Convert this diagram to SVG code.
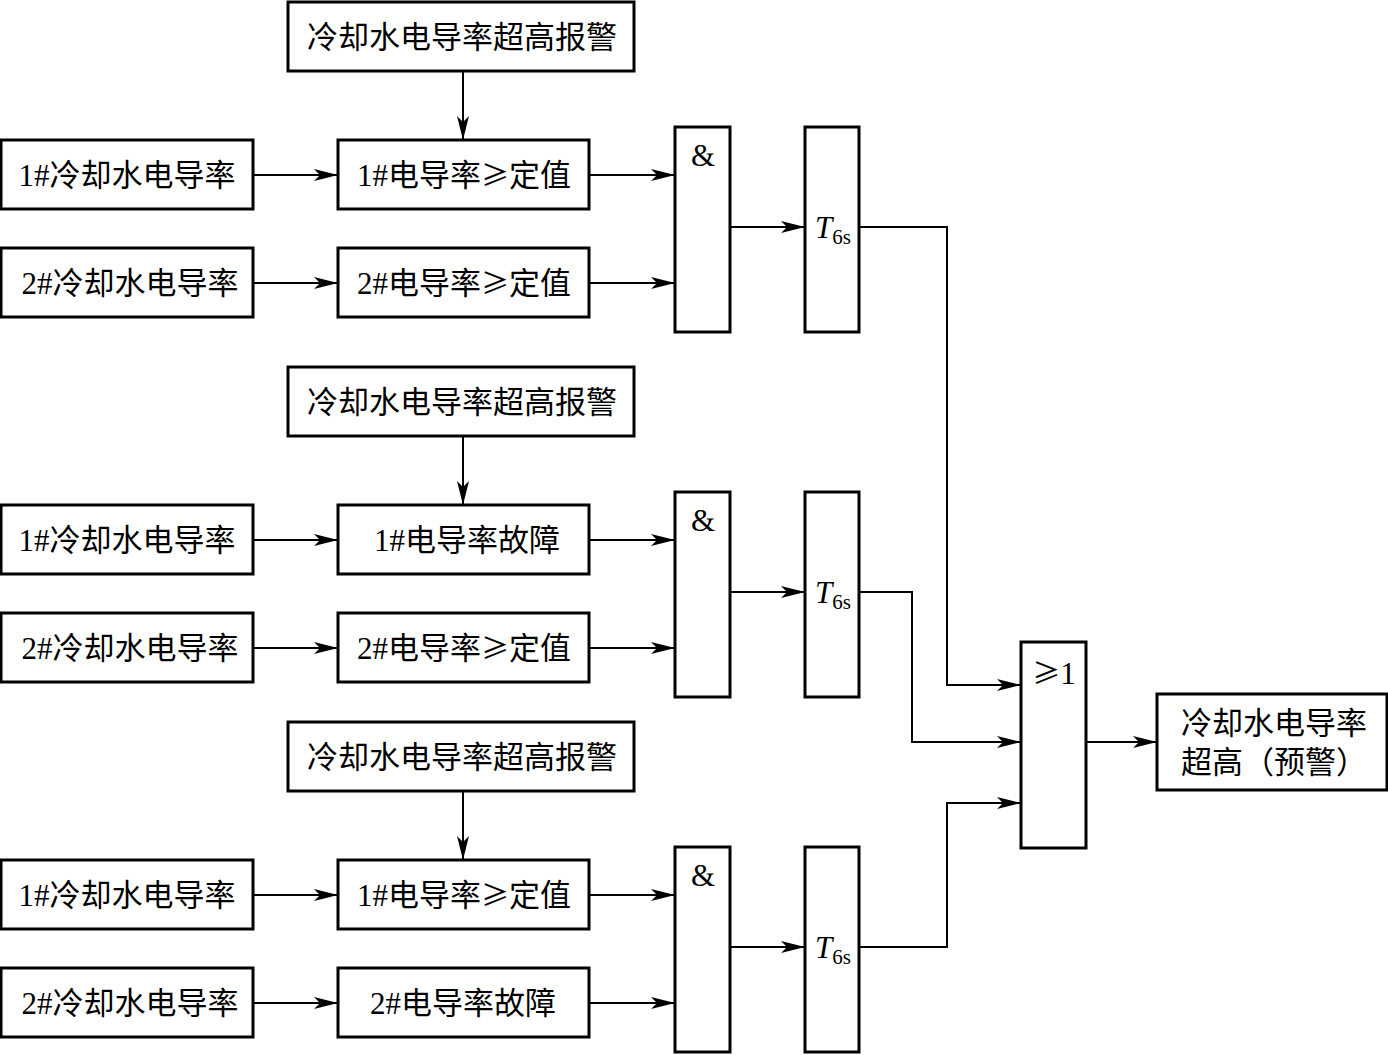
<svg xmlns="http://www.w3.org/2000/svg" width="1388" height="1055" viewBox="0 0 1388 1055">
<style>
.b{fill:#fff;stroke:#000;stroke-width:3}
.t{font-family:"Liberation Serif","Noto Sans CJK SC",serif;font-size:31px;fill:#000;text-anchor:middle}
.g{font-family:"Noto Sans CJK SC",sans-serif;font-size:28px}
.c{fill:none;stroke:#000;stroke-width:2}
.sub{font-size:21px}
</style>
<defs>
<marker id="a" markerWidth="24" markerHeight="12" refX="24" refY="6" orient="auto" markerUnits="userSpaceOnUse">
<path d="M0,0 L24,6 L0,12 L6,6 Z" fill="#000"/>
</marker>
</defs>
<rect width="1388" height="1055" fill="#fff"/>
<g id="connectors">
<path class="c" d="M463,71 V140" marker-end="url(#a)"/>
<path class="c" d="M253,175 H338" marker-end="url(#a)"/>
<path class="c" d="M253,283 H338" marker-end="url(#a)"/>
<path class="c" d="M589,175 H675" marker-end="url(#a)"/>
<path class="c" d="M589,283 H675" marker-end="url(#a)"/>
<path class="c" d="M730,227 H805" marker-end="url(#a)"/>
<path class="c" d="M859,227 H947 V685 H1021" marker-end="url(#a)"/>
<path class="c" d="M463,436 V505" marker-end="url(#a)"/>
<path class="c" d="M253,540 H338" marker-end="url(#a)"/>
<path class="c" d="M253,648 H338" marker-end="url(#a)"/>
<path class="c" d="M589,540 H675" marker-end="url(#a)"/>
<path class="c" d="M589,648 H675" marker-end="url(#a)"/>
<path class="c" d="M730,592 H805" marker-end="url(#a)"/>
<path class="c" d="M859,592 H912 V742 H1021" marker-end="url(#a)"/>
<path class="c" d="M463,791 V860" marker-end="url(#a)"/>
<path class="c" d="M253,895 H338" marker-end="url(#a)"/>
<path class="c" d="M253,1003 H338" marker-end="url(#a)"/>
<path class="c" d="M589,895 H675" marker-end="url(#a)"/>
<path class="c" d="M589,1003 H675" marker-end="url(#a)"/>
<path class="c" d="M730,947 H805" marker-end="url(#a)"/>
<path class="c" d="M859,947 H947 V803 H1021" marker-end="url(#a)"/>
<path class="c" d="M1086,742 H1157" marker-end="url(#a)"/>
</g>
<!-- group 1 -->
<g id="alarm1"><rect class="b" x="288" y="2" width="346" height="69"/><text class="t" x="462" y="48">冷却水电导率超高报警</text></g>
<g id="in1a"><rect class="b" x="1" y="140" width="252" height="69"/><text class="t" x="127" y="186">1#冷却水电导率</text></g>
<g id="in1b"><rect class="b" x="1" y="248" width="252" height="69"/><text class="t" x="130" y="294">2#冷却水电导率</text></g>
<g id="cmp1a"><rect class="b" x="338" y="140" width="251" height="69"/><text class="t" x="464" y="186">1#电导率<tspan class="g">≥</tspan>定值</text></g>
<g id="cmp1b"><rect class="b" x="338" y="248" width="251" height="69"/><text class="t" x="464" y="294">2#电导率<tspan class="g">≥</tspan>定值</text></g>
<g id="and1"><rect class="b" x="675" y="127" width="55" height="205"/><text class="t" x="703" y="166">&amp;</text></g>
<g id="t1"><rect class="b" x="805" y="127" width="54" height="205"/><text class="t" x="833" y="238"><tspan font-style="italic">T</tspan><tspan class="sub" dy="6">6s</tspan></text></g>
<!-- group 2 -->
<g id="alarm2"><rect class="b" x="288" y="367" width="346" height="69"/><text class="t" x="462" y="413">冷却水电导率超高报警</text></g>
<g id="in2a"><rect class="b" x="1" y="505" width="252" height="69"/><text class="t" x="127" y="551">1#冷却水电导率</text></g>
<g id="in2b"><rect class="b" x="1" y="613" width="252" height="69"/><text class="t" x="130" y="659">2#冷却水电导率</text></g>
<g id="cmp2a"><rect class="b" x="338" y="505" width="251" height="69"/><text class="t" x="467" y="551">1#电导率故障</text></g>
<g id="cmp2b"><rect class="b" x="338" y="613" width="251" height="69"/><text class="t" x="464" y="659">2#电导率<tspan class="g">≥</tspan>定值</text></g>
<g id="and2"><rect class="b" x="675" y="492" width="55" height="205"/><text class="t" x="703" y="531">&amp;</text></g>
<g id="t2"><rect class="b" x="805" y="492" width="54" height="205"/><text class="t" x="833" y="603"><tspan font-style="italic">T</tspan><tspan class="sub" dy="6">6s</tspan></text></g>
<!-- group 3 -->
<g id="alarm3"><rect class="b" x="288" y="722" width="346" height="69"/><text class="t" x="462" y="768">冷却水电导率超高报警</text></g>
<g id="in3a"><rect class="b" x="1" y="860" width="252" height="69"/><text class="t" x="127" y="906">1#冷却水电导率</text></g>
<g id="in3b"><rect class="b" x="1" y="968" width="252" height="69"/><text class="t" x="130" y="1014">2#冷却水电导率</text></g>
<g id="cmp3a"><rect class="b" x="338" y="860" width="251" height="69"/><text class="t" x="464" y="906">1#电导率<tspan class="g">≥</tspan>定值</text></g>
<g id="cmp3b"><rect class="b" x="338" y="968" width="251" height="69"/><text class="t" x="463" y="1014">2#电导率故障</text></g>
<g id="and3"><rect class="b" x="675" y="847" width="55" height="205"/><text class="t" x="703" y="886">&amp;</text></g>
<g id="t3"><rect class="b" x="805" y="847" width="54" height="205"/><text class="t" x="833" y="958"><tspan font-style="italic">T</tspan><tspan class="sub" dy="6">6s</tspan></text></g>
<!-- OR and output -->
<g id="or"><rect class="b" x="1021" y="642" width="65" height="206"/><text class="t" x="1054" y="684"><tspan class="g">≥</tspan>1</text></g>
<g id="out"><rect class="b" x="1157" y="694" width="230" height="96"/><text class="t" x="1274" y="734">冷却水电导率</text><text class="t" x="1274" y="773">超高（预警）</text></g>
</svg>
